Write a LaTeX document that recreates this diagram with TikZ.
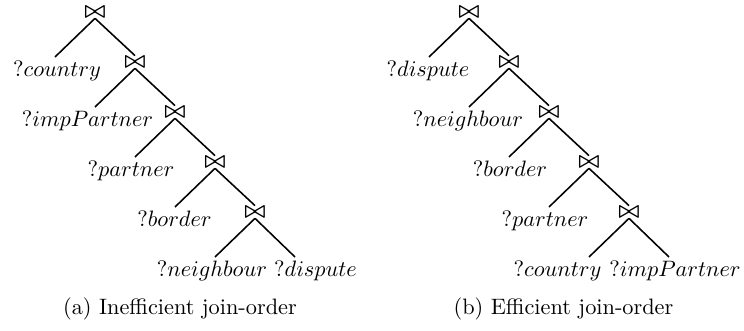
\documentclass[tikz,border=0pt]{standalone}
\usepackage{bm}
\newcommand{\joinsym}{$\bm{\bowtie}$}
\begin{document}
\begin{tikzpicture}[x=0.4484pt,y=-0.4484pt,
  joinnode/.style={inner sep=0pt,outer sep=0.5pt},
  leaf/.style={inner sep=0pt,anchor=base},
  edge/.style={line width=0.7pt},
  caption/.style={inner sep=0pt,anchor=base}]
\useasboundingbox (0,0) rectangle (744,331);

% ---- (a) inefficient join order ----
\node[joinnode] (a1) at (95,12)  {\joinsym};
\node[joinnode] (a2) at (135,62) {\joinsym};
\node[joinnode] (a3) at (175,112) {\joinsym};
\node[joinnode] (a4) at (215,162) {\joinsym};
\node[joinnode] (a5) at (255,212) {\joinsym};

\coordinate (ae1) at (55,57);
\coordinate (ae2) at (95,107);
\coordinate (ae3) at (135,157);
\coordinate (ae4) at (175,207);
\coordinate (ae5) at (215,257);
\coordinate (ae6) at (295,257);

\node[leaf] (al1) at (57,77)    {$?country$};
\node[leaf] (al2) at (87.5,127) {$?impPartner$};
\node[leaf] (al3) at (131,177)  {$?partner$};
\node[leaf] (al4) at (174.5,227) {$?border$};
\node[leaf] (al5) at (212,277)  {$?neighbour$};
\node[leaf] (al6) at (315.5,277) {$?dispute$};

\draw[edge] (a1.south) -- (ae1);
\draw[edge] (a1.south) -- (a2.north);
\draw[edge] (a2.south) -- (ae2);
\draw[edge] (a2.south) -- (a3.north);
\draw[edge] (a3.south) -- (ae3);
\draw[edge] (a3.south) -- (a4.north);
\draw[edge] (a4.south) -- (ae4);
\draw[edge] (a4.south) -- (a5.north);
\draw[edge] (a5.south) -- (ae5);
\draw[edge] (a5.south) -- (ae6);

\node[caption] (capa) at (180,315) {(a) Inefficient join-order};

% ---- (b) efficient join order ----
\node[joinnode] (b1) at (469,12)  {\joinsym};
\node[joinnode] (b2) at (509,62)  {\joinsym};
\node[joinnode] (b3) at (549,112) {\joinsym};
\node[joinnode] (b4) at (589,162) {\joinsym};
\node[joinnode] (b5) at (629,212) {\joinsym};

\coordinate (be1) at (429,57);
\coordinate (be2) at (469,107);
\coordinate (be3) at (509,157);
\coordinate (be4) at (549,207);
\coordinate (be5) at (589,257);
\coordinate (be6) at (669,257);

\node[leaf] (bl1) at (428,77)    {$?dispute$};
\node[leaf] (bl2) at (468,127)   {$?neighbour$};
\node[leaf] (bl3) at (510,177)   {$?border$};
\node[leaf] (bl4) at (545,227)   {$?partner$};
\node[leaf] (bl5) at (557.5,277) {$?country$};
\node[leaf] (bl6) at (675,277)   {$?impPartner$};

\draw[edge] (b1.south) -- (be1);
\draw[edge] (b1.south) -- (b2.north);
\draw[edge] (b2.south) -- (be2);
\draw[edge] (b2.south) -- (b3.north);
\draw[edge] (b3.south) -- (be3);
\draw[edge] (b3.south) -- (b4.north);
\draw[edge] (b4.south) -- (be4);
\draw[edge] (b4.south) -- (b5.north);
\draw[edge] (b5.south) -- (be5);
\draw[edge] (b5.south) -- (be6);

\node[caption] (capb) at (563.5,315) {(b) Efficient join-order};
\end{tikzpicture}
\end{document}
